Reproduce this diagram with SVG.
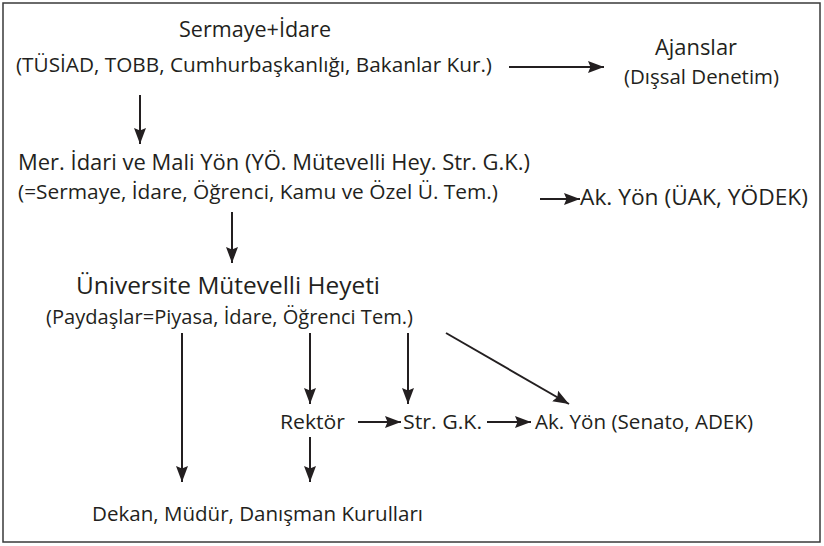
<svg xmlns="http://www.w3.org/2000/svg" width="824" height="546" viewBox="0 0 824 546">
<defs>
<marker id="ah" markerUnits="userSpaceOnUse" markerWidth="18" markerHeight="13" refX="16" refY="6.5" orient="auto">
<path d="M0,0.5 L16,6.5 L0,12.5 L2.5,6.5 Z" fill="#231f20"/>
</marker>
<style>
text{font-family:"Open Sans","Noto Sans",sans-serif;fill:#231f20;}
.l{font-size:22px;}
.m{font-size:20px;}
.c line{stroke:#231f20;stroke-width:2;marker-end:url(#ah);}
</style>
</defs>
<rect x="3" y="3" width="817" height="539" fill="#fff" stroke="#3a3a3a" stroke-width="1.5"/>
<g id="sermaye">
<text class="l" x="179" y="37" textLength="152" lengthAdjust="spacingAndGlyphs">Sermaye+İdare</text>
<text class="m" x="16" y="72" textLength="476" lengthAdjust="spacingAndGlyphs">(TÜSİAD, TOBB, Cumhurbaşkanlığı, Bakanlar Kur.)</text>
</g>
<g id="ajanslar">
<text class="l" x="655" y="55" textLength="82" lengthAdjust="spacingAndGlyphs">Ajanslar</text>
<text class="m" x="624" y="84" textLength="155" lengthAdjust="spacingAndGlyphs">(Dışsal Denetim)</text>
</g>
<g id="mer">
<text class="l" x="18" y="170" textLength="512" lengthAdjust="spacingAndGlyphs">Mer. İdari ve Mali Yön (YÖ. Mütevelli Hey. Str. G.K.)</text>
<text class="m" x="18" y="199" textLength="480" lengthAdjust="spacingAndGlyphs">(=Sermaye, İdare, Öğrenci, Kamu ve Özel Ü. Tem.)</text>
</g>
<g id="akyon1">
<text class="l" x="580" y="205" textLength="228" lengthAdjust="spacingAndGlyphs">Ak. Yön (ÜAK, YÖDEK)</text>
</g>
<g id="umh">
<text class="l" x="76" y="294" textLength="304" lengthAdjust="spacingAndGlyphs" style="font-size:23px">Üniversite Mütevelli Heyeti</text>
<text class="m" x="46" y="324" textLength="367" lengthAdjust="spacingAndGlyphs">(Paydaşlar=Piyasa, İdare, Öğrenci Tem.)</text>
</g>
<g id="rektor"><text class="m" x="280" y="429" textLength="65" lengthAdjust="spacingAndGlyphs">Rektör</text></g>
<g id="strgk"><text class="m" x="403" y="429" textLength="79" lengthAdjust="spacingAndGlyphs">Str. G.K.</text></g>
<g id="akyon2"><text class="m" x="535" y="429" textLength="218" lengthAdjust="spacingAndGlyphs">Ak. Yön (Senato, ADEK)</text></g>
<g id="dekan"><text class="m" x="92" y="521" textLength="331" lengthAdjust="spacingAndGlyphs">Dekan, Müdür, Danışman Kurulları</text></g>
<g class="c" id="connectors">
<line x1="509" y1="67" x2="604" y2="67"/>
<line x1="140" y1="95" x2="140" y2="144"/>
<line x1="540" y1="199" x2="580" y2="199"/>
<line x1="232" y1="212" x2="232" y2="263"/>
<line x1="182" y1="333" x2="182" y2="482"/>
<line x1="310" y1="333" x2="310" y2="404"/>
<line x1="408" y1="333" x2="408" y2="404"/>
<line x1="446" y1="333" x2="569" y2="404"/>
<line x1="358" y1="422" x2="401" y2="422"/>
<line x1="487" y1="422" x2="531" y2="422"/>
<line x1="310" y1="437" x2="310" y2="482"/>
</g>
</svg>
